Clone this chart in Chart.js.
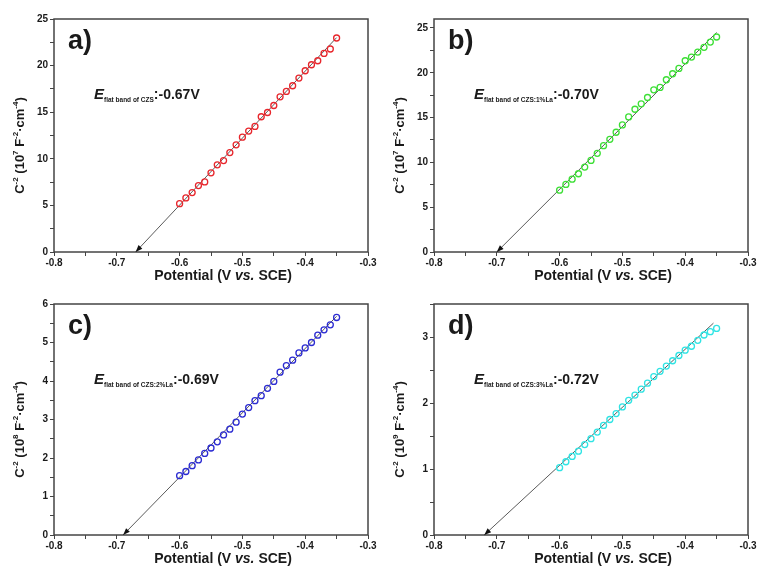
<!DOCTYPE html>
<html lang="en">
<head>
<meta charset="UTF-8">
<title>Mott-Schottky plots</title>
<script src="https://cdn.jsdelivr.net/npm/chart.js@4"></script>
<style>
  * { margin: 0; padding: 0; box-sizing: border-box; }
  body { background: #fff; width: 758px; height: 570px; overflow: hidden; }
  #wrap { position: relative; width: 758px; height: 570px; }
  canvas { position: absolute; }
</style>
</head>
<body>
<div id="wrap">
  <canvas id="pa" width="380" height="285" style="left:0;top:0"></canvas>
  <canvas id="pb" width="378" height="285" style="left:380px;top:0"></canvas>
  <canvas id="pc" width="380" height="285" style="left:0;top:285px"></canvas>
  <canvas id="pd" width="378" height="285" style="left:380px;top:285px"></canvas>
</div>
<script>
// applied potential (V vs. SCE)
const potential = [-0.60, -0.59, -0.58, -0.57, -0.56, -0.55, -0.54, -0.53, -0.52, -0.51,
                   -0.50, -0.49, -0.48, -0.47, -0.46, -0.45, -0.44, -0.43, -0.42, -0.41,
                   -0.40, -0.39, -0.38, -0.37, -0.36, -0.35];

// C^-2 values, in units of 10^7, 10^7, 10^8 and 10^9 F^-2 cm^-4
const czs    = [5.19, 5.80, 6.38, 7.13, 7.52, 8.49, 9.35, 9.81, 10.67, 11.50,
                12.32, 12.97, 13.47, 14.51, 14.97, 15.72, 16.65, 17.23, 17.84, 18.66,
                19.45, 20.09, 20.52, 21.31, 21.78, 22.96];
const czsLa1 = [6.90, 7.54, 8.13, 8.73, 9.48, 10.22, 11.01, 11.87, 12.57, 13.36,
                14.18, 15.07, 15.93, 16.53, 17.24, 18.10, 18.36, 19.22, 19.89, 20.49,
                21.34, 21.75, 22.31, 22.84, 23.43, 23.99];
const czsLa2 = [1.54, 1.65, 1.80, 1.95, 2.12, 2.26, 2.42, 2.60, 2.75, 2.93,
                3.14, 3.31, 3.49, 3.62, 3.81, 3.99, 4.23, 4.40, 4.54, 4.73,
                4.86, 5.00, 5.19, 5.33, 5.46, 5.65];
const czsLa3 = [1.02, 1.11, 1.19, 1.27, 1.37, 1.46, 1.56, 1.66, 1.75, 1.84,
                1.94, 2.04, 2.12, 2.21, 2.30, 2.40, 2.48, 2.56, 2.64, 2.72,
                2.80, 2.86, 2.95, 3.03, 3.08, 3.13];

// linear fits: x-intercept (flat band potential) and upper end of the fit line
const flatBand = [-0.67, -0.70, -0.69, -0.72];
const fitEndX  = [-0.35, -0.35, -0.35, -0.355];
const fitEndY  = [23.0, 24.5, 5.68, 3.21];

// axes
const xMin = -0.8, xMax = -0.3;
const yMax = [25, 26, 6, 3.5];
const yMajor = [5, 5, 1, 1];
const yExponent = ['7', '7', '8', '9'];
const panelLabels = ['a)', 'b)', 'c)', 'd)'];
const samples = ['CZS', 'CZS:1%La', 'CZS:2%La', 'CZS:3%La'];

const series = [czs, czsLa1, czsLa2, czsLa3];
const colors = ['#e8262c', '#3ddf36', '#2b2bd2', '#2fe4e4'];
const FONT = 'Arial, "Liberation Sans", sans-serif';
const AXIS = '#444';

// draw a row of text pieces with their own fonts/offsets
function drawRuns(ctx, runs, x, y, center) {
  let total = 0;
  runs.forEach(r => { ctx.font = r.font; r.w = ctx.measureText(r.t).width; total += r.w; });
  let cx = center ? x - total / 2 : x;
  runs.forEach(r => {
    ctx.font = r.font;
    ctx.fillText(r.t, cx, y + (r.dy || 0));
    cx += r.w;
  });
}

const panelText = {
  id: 'panelText',
  afterDraw(chart, args, opts) {
    const { ctx, chartArea: a, scales } = chart;
    const i = opts.index;
    ctx.save();

    // frame
    ctx.strokeStyle = AXIS;
    ctx.lineWidth = 1.5;
    ctx.strokeRect(a.left, a.top, a.right - a.left, a.bottom - a.top);

    // arrow head at the intercept
    const x0 = scales.x.getPixelForValue(flatBand[i]);
    const y0 = scales.y.getPixelForValue(0);
    const x1 = scales.x.getPixelForValue(fitEndX[i]);
    const y1 = scales.y.getPixelForValue(fitEndY[i]);
    const ang = Math.atan2(y0 - y1, x0 - x1);
    const len = 7, half = 2.6;
    const bx = x0 - len * Math.cos(ang), by = y0 - len * Math.sin(ang);
    ctx.fillStyle = '#111';
    ctx.beginPath();
    ctx.moveTo(x0, y0);
    ctx.lineTo(bx + half * Math.sin(ang), by - half * Math.cos(ang));
    ctx.lineTo(bx - half * Math.sin(ang), by + half * Math.cos(ang));
    ctx.closePath();
    ctx.fill();

    ctx.fillStyle = '#1a1a1a';
    ctx.textBaseline = 'alphabetic';
    ctx.textAlign = 'left';

    // panel letter
    ctx.font = 'bold 27px ' + FONT;
    ctx.fillText(panelLabels[i], a.left + 14, a.top + 30);

    // flat band annotation
    drawRuns(ctx, [
      { t: 'E', font: 'italic bold 15px ' + FONT },
      { t: 'flat band of ' + samples[i], font: 'bold 6.5px ' + FONT, dy: 3 },
      { t: ':' + flatBand[i].toFixed(2) + 'V', font: 'bold 14px ' + FONT }
    ], a.left + 40, a.top + 80, false);

    // x title
    drawRuns(ctx, [
      { t: 'Potential (V ', font: 'bold 14px ' + FONT },
      { t: 'vs.', font: 'italic bold 14px ' + FONT },
      { t: ' SCE)', font: 'bold 14px ' + FONT }
    ], (a.left + a.right) / 2 + 12, a.bottom + 28, true);

    // y title (rotated)
    ctx.translate(19, (a.top + a.bottom) / 2 + 10);
    ctx.rotate(-Math.PI / 2);
    const big = 'bold 13px ' + FONT, sup = 'bold 8px ' + FONT;
    drawRuns(ctx, [
      { t: 'C', font: big },
      { t: '-2', font: sup, dy: -6 },
      { t: ' (10', font: big },
      { t: yExponent[i], font: sup, dy: -6 },
      { t: ' F', font: big },
      { t: '-2', font: sup, dy: -6 },
      { t: '\u00b7cm', font: big },
      { t: '-4', font: sup, dy: -6 },
      { t: ')', font: big }
    ], 0, 5, true);
    ctx.restore();
  }
};

function makePanel(id, i, rightPad, xHeight) {
  const points = potential.map((x, k) => ({ x: x, y: series[i][k] }));
  const fit = [{ x: flatBand[i], y: 0 }, { x: fitEndX[i], y: fitEndY[i] }];
  const tickFont = { family: FONT, size: 10, weight: 'bold' };
  new Chart(document.getElementById(id), {
    type: 'scatter',
    data: {
      datasets: [
        {
          data: points,
          order: 1,
          pointStyle: 'circle',
          pointRadius: 3,
          pointBorderWidth: 1.3,
          borderColor: colors[i],
          backgroundColor: 'rgba(0,0,0,0)',
          showLine: false
        },
        {
          type: 'line',
          data: fit,
          order: 2,
          borderColor: '#5a5a5a',
          borderWidth: 1,
          pointRadius: 0,
          clip: false
        }
      ]
    },
    options: {
      responsive: false,
      animation: false,
      devicePixelRatio: 1,
      layout: { padding: { top: 19, right: rightPad, left: 0, bottom: 0 } },
      plugins: {
        legend: { display: false },
        tooltip: { enabled: false },
        panelText: { index: i }
      },
      scales: {
        x: {
          type: 'linear',
          min: xMin,
          max: xMax,
          afterFit: s => { s.height = xHeight; },
          border: { display: false },
          grid: { drawOnChartArea: false, drawTicks: true, tickLength: 4, color: AXIS, lineWidth: 1 },
          ticks: {
            stepSize: 0.05,
            autoSkip: false,
            maxRotation: 0,
            padding: 1,
            color: '#1a1a1a',
            font: tickFont,
            callback: v => Math.abs(v / 0.1 - Math.round(v / 0.1)) < 1e-6 ? v.toFixed(1) : ''
          }
        },
        y: {
          type: 'linear',
          min: 0,
          max: yMax[i],
          afterFit: s => { s.width = 54; },
          border: { display: false },
          grid: { drawOnChartArea: false, drawTicks: true, tickLength: 4, color: AXIS, lineWidth: 1 },
          ticks: {
            stepSize: yMajor[i] / 2,
            includeBounds: false,
            autoSkip: false,
            padding: 2,
            color: '#1a1a1a',
            font: tickFont,
            callback: v => Math.abs(v / yMajor[i] - Math.round(v / yMajor[i])) < 1e-6 ? String(v) : ''
          }
        }
      }
    },
    plugins: [panelText]
  });
}

makePanel('pa', 0, 12, 33);
makePanel('pb', 1, 10, 33);
makePanel('pc', 2, 12, 35);
makePanel('pd', 3, 10, 35);
</script>
</body>
</html>
